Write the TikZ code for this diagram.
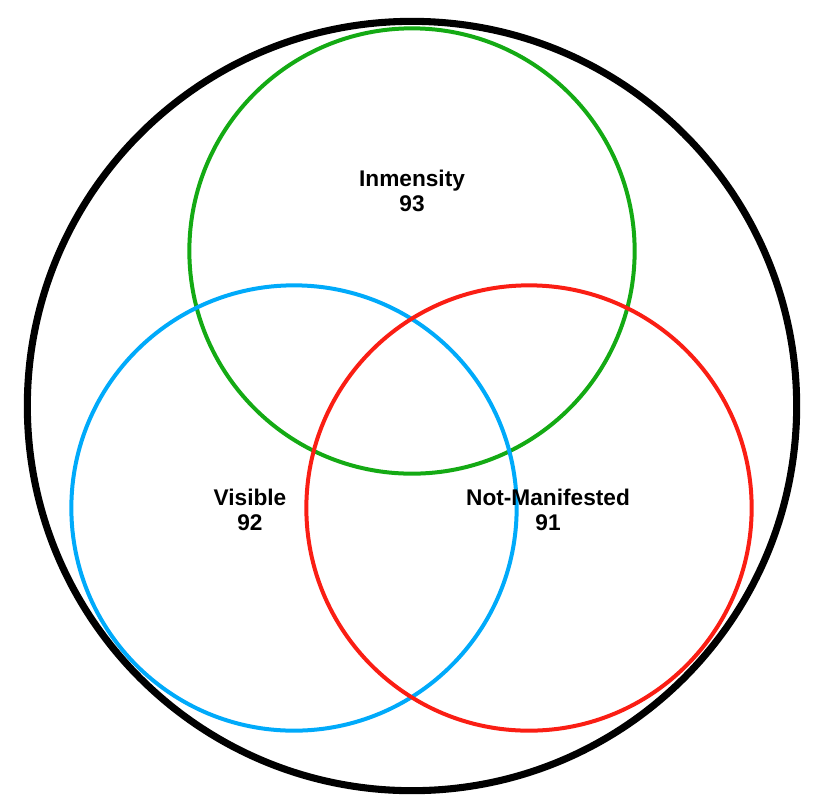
\documentclass[tikz,border=0pt]{standalone}
\usepackage{fontspec}
\setmainfont{Liberation Sans}
\usetikzlibrary{positioning}
\definecolor{vgreen}{RGB}{20,170,20}
\definecolor{vblue}{RGB}{0,170,250}
\definecolor{vred}{RGB}{250,30,20}
\begin{document}
\begin{tikzpicture}[x=0.75pt,y=-0.75pt,
  ring/.style={draw=#1, circle, line width=3pt, minimum size=334pt, inner sep=0pt},
  lbl/.style={font=\bfseries\fontsize{17}{19}\selectfont, align=center}]
		\useasboundingbox (0,0) rectangle (824,801);
		\node (all) [draw, circle, line width=5.3pt, minimum size=577pt, inner sep=0pt] at (412,406) {};
		\node (imm) [ring=vgreen] at (412,251) {};
		\node (vis) [ring=vblue] at (294,508) {};
		\node (not) [ring=vred] at (529,508) {};
		\node (limm) [lbl] at (412,191) {Inmensity\\93};
		\node (lvis) [lbl] at (250,510) {Visible\\92};
		\node (lnot) [lbl] at (548,510) {Not-Manifested\\91};
\end{tikzpicture}
\end{document}
